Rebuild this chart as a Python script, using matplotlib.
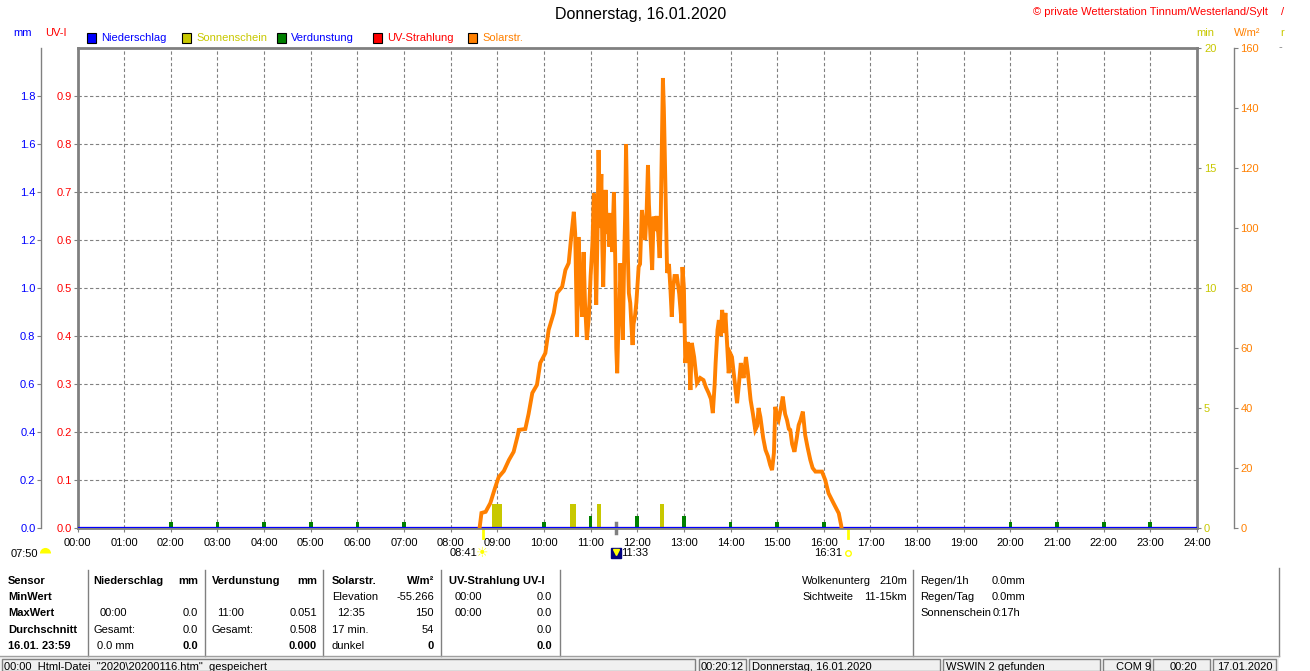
import numpy as np
import matplotlib
matplotlib.use("Agg")
import matplotlib.pyplot as plt
from matplotlib.patches import Rectangle
from matplotlib.lines import Line2D

plt.rcParams['font.family'] = ['Liberation Sans', 'DejaVu Sans']
plt.rcParams['font.size'] = 8

# --- data, 16.01.2020 ---
hour_labels = ["%02d:00" % h for h in range(25)]

# Solarstrahlung, W/m2 (decimal hours)
solar_h = [8.62, 8.66, 8.75, 8.85, 8.95, 9.03, 9.14, 9.25, 9.35, 9.44, 9.46, 9.60, 9.67, 9.75,
           9.85, 9.92, 10.03, 10.10, 10.21, 10.28, 10.39, 10.46, 10.53, 10.59, 10.64, 10.67,
           10.71, 10.74, 10.78, 10.82, 10.85, 10.88, 10.92, 10.96, 11.00, 11.04, 11.07, 11.10,
           11.12, 11.15, 11.17, 11.20, 11.23, 11.25, 11.27, 11.30, 11.32, 11.35, 11.38, 11.40,
           11.43, 11.46, 11.50, 11.53, 11.55, 11.57, 11.60, 11.62, 11.64, 11.67, 11.69, 11.72,
           11.74, 11.76, 11.78, 11.80, 11.82, 11.85, 11.88, 11.90, 11.92, 11.95, 11.98, 12.03,
           12.06, 12.10, 12.13, 12.17, 12.20, 12.23, 12.25, 12.28, 12.32, 12.35, 12.38, 12.42,
           12.45, 12.48, 12.50, 12.53, 12.55, 12.57, 12.59, 12.62, 12.64, 12.68, 12.71, 12.74,
           12.77, 12.80, 12.85, 12.90, 12.95, 12.97, 13.00, 13.03, 13.08, 13.11, 13.14, 13.17,
           13.22, 13.28, 13.35, 13.42, 13.47, 13.53, 13.58, 13.62, 13.66, 13.68, 13.72, 13.75,
           13.79, 13.82, 13.86, 13.89, 13.93, 13.96, 14.00, 14.03, 14.08, 14.11, 14.14, 14.18,
           14.22, 14.24, 14.28, 14.33, 14.37, 14.43, 14.48, 14.53, 14.57, 14.60, 14.64, 14.70,
           14.75, 14.80, 14.85, 14.89, 14.93, 14.96, 15.00, 15.03, 15.08, 15.12, 15.17, 15.21,
           15.25, 15.28, 15.32, 15.37, 15.42, 15.46, 15.50, 15.55, 15.60, 15.65, 15.71, 15.76,
           15.82, 15.96, 16.03, 16.10, 16.21, 16.32, 16.37, 16.38]
solar_w = [0, 5, 5.4, 8.3, 13.3, 17, 19, 22.7, 25.4, 31, 32.7, 33, 38, 45,
           47.7, 55, 58.3, 66, 71.7, 78.3, 80.4, 86, 88.3, 98, 105.4, 98,
           63.8, 97, 80, 70.4, 92, 75, 62.7, 70, 84, 95, 111.5, 90,
           74.4, 100, 126, 100, 118, 95, 80.4, 100, 112.7, 98, 105, 93.8,
           105, 92, 112, 88, 60, 51.6, 70, 75, 88.3, 72, 62.7, 90,
           104, 128, 108, 90, 78.3, 75, 66, 61, 68, 70.4, 75, 87,
           88, 106, 101, 96, 105, 121, 108, 98, 86, 103.8, 99, 104,
           98, 90, 100, 130, 150, 140, 125, 100, 85, 88, 80, 70.4,
           80, 84, 84, 78, 68.3, 87, 80, 55, 62, 58, 46, 61.7,
           57, 48.3, 50, 49.3, 47, 45, 43, 38.3, 48, 55, 66, 69.3,
           64, 72.7, 65, 71.7, 60, 51.6, 58, 57, 50, 46, 41.6, 48,
           55, 52.7, 50, 57, 52, 42.7, 38, 32.7, 34, 40, 37, 30,
           26, 24, 21, 19.3, 25, 40.4, 37, 36, 40, 43.8, 38, 36,
           33, 32.7, 28, 25.4, 30, 34.3, 36, 38.8, 31, 27, 22.7, 20,
           18.8, 18.8, 16, 11.6, 8.2, 4.9, 1, 0]

# Sonnenschein, minutes (bar start hour, bar width in hours)
sun_start = [8.89, 10.55, 11.14, 12.48]
sun_width = [0.20, 0.14, 0.09, 0.10]
sun_min = [1, 1, 1, 1]

# Verdunstung, mm per hour
verd_hours = [2, 3, 4, 5, 6, 7, 10, 11, 12, 13, 14, 15, 16, 20, 21, 22, 23]
verd_mm = [0.025, 0.025, 0.025, 0.025, 0.025, 0.025, 0.025, 0.051, 0.050, 0.050,
           0.025, 0.025, 0.025, 0.025, 0.025, 0.025, 0.025]

# Niederschlag (mm) and UV index, both zero all day
flat_hours = [0, 4, 8, 12, 16, 20, 24]
rain_mm = [0.0, 0.0, 0.0, 0.0, 0.0, 0.0, 0.0]
uv_index = [0.0, 0.0, 0.0, 0.0, 0.0, 0.0, 0.0]

sunrise, noon, sunset = "08:41", "11:33", "16:31"
moon_label = "07:50"

# --- layout helpers (pixel coords of the 1310x671 screen shot) ---
W, H = 1310, 671
def fx(x):
    return x / W
def fy(y):
    return 1 - y / H
def ftext(x, y, s, **kw):
    kw.setdefault('va', 'center')
    fig.text(fx(x), fy(y), s, **kw)
def to_hours(s):
    h, m = s.split(":")
    return int(h) + int(m) / 60.0

GRAY = '#808080'
BLUE = '#0000FF'
RED = '#FF0000'
OLIVE = '#C8C800'
GREEN = '#008000'
ORANGE = '#FF8000'
YELLOW = '#FFFF00'

fig = plt.figure(figsize=(W / 100, H / 100), dpi=100)
ax = fig.add_axes([fx(77.5), fy(528), (1197 - 77.5) / W, 480 / H])

# host axis: UV index scale + grid
ax.set_xlim(0, 24)
ax.set_ylim(0, 1.0)
ax.set_xticks(range(25))
ax.set_xticklabels(hour_labels)
ax.set_yticks(np.arange(0, 0.95, 0.1))
ax.set_yticklabels(["%.1f" % v for v in np.arange(0, 0.95, 0.1)])
ax.grid(True, color=GRAY, linestyle=(0, (3, 2.2)), linewidth=0.8)
for s in ax.spines.values():
    s.set_color(GRAY)
    s.set_linewidth(2)
ax.tick_params(axis='x', length=3, color=GRAY, pad=4, labelsize=8)
ax.tick_params(axis='y', length=3, color=GRAY, pad=1, labelsize=8, labelcolor=RED)
ax.plot(flat_hours, uv_index, color=RED, lw=1.5)

# Sonnenschein axis (min), right edge
ax_min = ax.twinx()
ax_min.set_ylim(0, 20)
ax_min.set_yticks([0, 5, 10, 15, 20])
for k in ['left', 'top', 'bottom', 'right']:
    ax_min.spines[k].set_visible(False)
ax_min.tick_params(axis='y', length=3, color=GRAY, pad=2, labelsize=8, labelcolor=OLIVE)
ax_min.bar(sun_start, sun_min, width=sun_width, align='edge', color=OLIVE, linewidth=0)

# mm axis (Niederschlag / Verdunstung), offset left
ax_mm = ax.twinx()
ax_mm.yaxis.tick_left()
ax_mm.set_ylim(0, 2.0)
ax_mm.set_yticks(np.arange(0, 1.85, 0.2))
ax_mm.set_yticklabels(["%.1f" % v for v in np.arange(0, 1.85, 0.2)])
for k in ['right', 'top', 'bottom']:
    ax_mm.spines[k].set_visible(False)
ax_mm.spines['left'].set_position(('outward', 36.5 * 0.72))
ax_mm.spines['left'].set_color(GRAY)
ax_mm.spines['left'].set_linewidth(1)
ax_mm.tick_params(axis='y', length=3, color=GRAY, pad=1, labelsize=8, labelcolor=BLUE)
ax_mm.bar(verd_hours, verd_mm, width=0.08, color=GREEN, linewidth=0)
ax_mm.plot(flat_hours, rain_mm, color=BLUE, lw=1.6)

# Solarstrahlung axis (W/m2), offset right
ax_sol = ax.twinx()
ax_sol.set_ylim(0, 160)
ax_sol.set_yticks(range(0, 161, 20))
for k in ['left', 'top', 'bottom']:
    ax_sol.spines[k].set_visible(False)
ax_sol.spines['right'].set_position(('outward', 36.5 * 0.72))
ax_sol.spines['right'].set_color(GRAY)
ax_sol.spines['right'].set_linewidth(1)
ax_sol.tick_params(axis='y', length=3, color=GRAY, pad=2, labelsize=8, labelcolor=ORANGE)
ax_sol.plot(solar_h, solar_w, color=ORANGE, lw=2.8, solid_joinstyle='miter')

# sun events under the time axis
xt = ax.get_xaxis_transform()
dy = 1 / 480.0
for ev in (sunrise, sunset):
    t = to_hours(ev)
    ax.plot([t, t], [0, -10 * dy], color=YELLOW, lw=2, transform=xt, clip_on=False)
    ax.annotate(ev, xy=(t, 0), xycoords=xt, xytext=(-4, -18), textcoords='offset points',
                ha='right', va='center', fontsize=8)
t = to_hours(sunrise)
ax.annotate(u"\u2600", xy=(t, 0), xycoords=xt, xytext=(0, -18), textcoords='offset points',
            ha='center', va='center', color=YELLOW, fontsize=10, family='DejaVu Sans')
t = to_hours(sunset)
ax.plot([t], [-25 * dy], marker='o', ms=4, mfc='white', mec=YELLOW, mew=1,
        transform=xt, clip_on=False)
t = to_hours(noon)
ax.plot([t, t], [5 * dy, -5 * dy], color=GRAY, lw=2.5, transform=xt, clip_on=False)
ax.plot([t], [-25 * dy], marker='s', ms=7, color='#000080', transform=xt, clip_on=False)
ax.plot([t], [-24 * dy], marker='v', ms=4, color=YELLOW, transform=xt, clip_on=False)
ax.annotate(noon, xy=(t, 0), xycoords=xt, xytext=(3.5, -18), textcoords='offset points',
            ha='left', va='center', fontsize=8)
ftext(11, 554, moon_label)
fig.add_artist(Line2D([fx(44.5)], [fy(553)], marker='o', fillstyle='top', ms=8,
                      mfc=YELLOW, mew=0, transform=fig.transFigure))

# header texts
ftext(641, 15, "Donnerstag, 16.01.2020", ha='center', fontsize=11.5)
ftext(1268, 12, u"\u00a9 private Wetterstation Tinnum/Westerland/Sylt", ha='right', color=RED)
ftext(1281, 12, "/", color=RED)
ftext(23, 33, "mm", ha='center', color=BLUE)
ftext(56, 33, "UV-I", ha='center', color=RED)
ftext(1205, 33, "min", ha='center', color=OLIVE)
ftext(1247, 33, u"W/m\u00b2", ha='center', color=ORANGE)
ftext(1282, 33, "r", ha='center', color=OLIVE)
ftext(1280, 47, "-", ha='center', color=GRAY)

legend = [(87, BLUE, "Niederschlag", BLUE), (182, OLIVE, "Sonnenschein", OLIVE),
          (277, GREEN, "Verdunstung", BLUE), (373, RED, "UV-Strahlung", RED),
          (468, ORANGE, "Solarstr.", ORANGE)]
for x0, fc, label, tc in legend:
    fig.add_artist(Rectangle((fx(x0), fy(43)), 9 / W, 10 / H, facecolor=fc, edgecolor='black',
                             lw=0.8, transform=fig.transFigure))
    ftext(x0 + 14, 38, label, color=tc)

# statistics table
rows_y = [581, 597, 613, 630, 646]
for y, s in zip(rows_y, ["Sensor", "MinWert", "MaxWert", "Durchschnitt", "16.01. 23:59"]):
    ftext(8, y, s, fontweight='bold')
ftext(93, 581, "Niederschlag", fontweight='bold')
ftext(198, 581, "mm", fontweight='bold', ha='right')
ftext(212, 581, "Verdunstung", fontweight='bold')
ftext(317, 581, "mm", fontweight='bold', ha='right')
ftext(332, 581, "Solarstr.", fontweight='bold')
ftext(434, 581, u"W/m\u00b2", fontweight='bold', ha='right')
ftext(449, 581, "UV-Strahlung UV-I", fontweight='bold')

ftext(100, 613, "00:00"); ftext(198, 613, "0.0", ha='right')
ftext(93, 630, "Gesamt:"); ftext(198, 630, "0.0", ha='right')
ftext(97, 646, "0.0 mm"); ftext(198, 646, "0.0", ha='right', fontweight='bold')

ftext(217, 613, "11:00"); ftext(317, 613, "0.051", ha='right')
ftext(212, 630, "Gesamt:"); ftext(317, 630, "0.508", ha='right')
ftext(317, 646, "0.000", ha='right', fontweight='bold')

ftext(332, 597, "Elevation"); ftext(434, 597, "-55.266", ha='right')
ftext(337, 613, "12:35"); ftext(434, 613, "150", ha='right')
ftext(332, 630, "17 min."); ftext(434, 630, "54", ha='right')
ftext(332, 646, "dunkel"); ftext(434, 646, "0", ha='right', fontweight='bold')

ftext(455, 597, "00:00"); ftext(552, 597, "0.0", ha='right')
ftext(455, 613, "00:00"); ftext(552, 613, "0.0", ha='right')
ftext(552, 630, "0.0", ha='right')
ftext(552, 646, "0.0", ha='right', fontweight='bold')

ftext(802, 581, "Wolkenunterg"); ftext(907, 581, "210m", ha='right')
ftext(802, 597, "Sichtweite"); ftext(907, 597, "11-15km", ha='right')
ftext(920, 581, "Regen/1h"); ftext(992, 581, "0.0mm")
ftext(920, 597, "Regen/Tag"); ftext(992, 597, "0.0mm")
ftext(920, 613, "Sonnenschein"); ftext(993, 613, "0:17h")

for xs in [88, 205, 323, 441, 560, 913]:
    fig.add_artist(Line2D([fx(xs), fx(xs)], [fy(570), fy(656)], color=GRAY, lw=1,
                          transform=fig.transFigure))
fig.add_artist(Line2D([fx(1279), fx(1279)], [fy(568), fy(656)], color=GRAY, lw=1,
                      transform=fig.transFigure))

# status bar
fig.add_artist(Rectangle((0, 0), fx(1279), (671 - 656) / H, facecolor='#F0F0F0',
                         edgecolor='none', transform=fig.transFigure))
fig.add_artist(Line2D([0, fx(1279)], [fy(656), fy(656)], color='#A0A0A0', lw=1,
                      transform=fig.transFigure))
for a, b in [(2, 695), (699, 746), (749, 940), (943, 1100), (1103, 1150), (1153, 1210), (1213, 1276)]:
    fig.add_artist(Rectangle((fx(a), 0), (b - a) / W, (671 - 659) / H, facecolor='none',
                             edgecolor=GRAY, lw=1, transform=fig.transFigure))
ftext(4, 667, u"00:00  Html-Datei  \"2020\\20200116.htm\"  gespeichert")
ftext(744, 667, "00:20:12", ha='right')
ftext(752, 667, "Donnerstag, 16.01.2020")
ftext(946, 667, "WSWIN 2 gefunden")
ftext(1116, 667, "COM 9")
ftext(1197, 667, "00:20", ha='right')
ftext(1217, 667, "17.01.2020")

fig.savefig("out.png", dpi=100)
